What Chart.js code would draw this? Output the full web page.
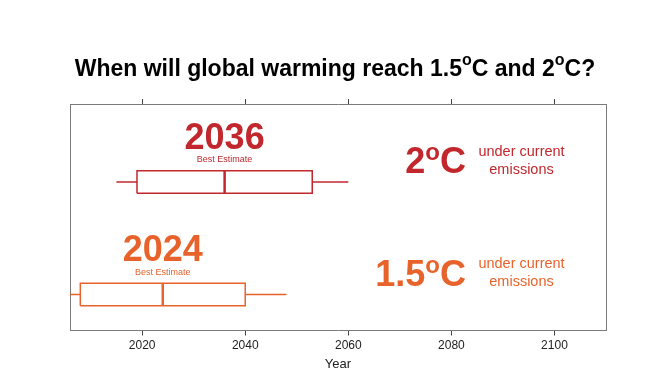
<!DOCTYPE html>
<html>
<head>
<meta charset="utf-8">
<script src="https://cdn.jsdelivr.net/npm/chart.js@4"></script>
<style>
  body { margin: 0; background: #fff; }
</style>
</head>
<body>
<canvas id="chartWarming" width="672" height="391"></canvas>
<script>
// rows of the chart (top to bottom)
let thresholds = ["2", "1.5"];
let rowValue = [2, 1];
let bestEstimate = [2036, 2024];
let whiskerLow = [2015, 2003];
let boxLow = [2019, 2008];
let boxHigh = [2053, 2040];
let whiskerHigh = [2060, 2048];
let rowColors = ["#c1272d", "#e8632b"];

let yearTicks = [2020, 2040, 2060, 2080, 2100];

const FONT = "'Liberation Sans', Arial, Helvetica, sans-serif";
const HALF = 0.1;

let datasets = [];
thresholds.forEach((t, i) => {
    let r = rowValue[i];
    let line = {
        type: 'scatter',
        showLine: true,
        pointRadius: 0,
        pointHoverRadius: 0,
        borderColor: rowColors[i],
        backgroundColor: rowColors[i],
        borderWidth: 1.5,
        tension: 0
    };
    datasets.push({...line, label: t + " box", data: [
        {x: boxLow[i], y: r - HALF}, {x: boxHigh[i], y: r - HALF},
        {x: boxHigh[i], y: r + HALF}, {x: boxLow[i], y: r + HALF},
        {x: boxLow[i], y: r - HALF}
    ]});
    datasets.push({...line, label: t + " low", data: [{x: whiskerLow[i], y: r}, {x: boxLow[i], y: r}]});
    datasets.push({...line, label: t + " high", data: [{x: boxHigh[i], y: r}, {x: whiskerHigh[i], y: r}]});
    datasets.push({...line, label: t + " median", borderWidth: 2.5,
        data: [{x: bestEstimate[i], y: r - HALF}, {x: bestEstimate[i], y: r + HALF}]});
});

// draws text pieces in a row, "sup" pieces raised and smaller
function drawPieces(ctx, pieces, x, baseline, align) {
    let total = 0;
    pieces.forEach(p => {
        ctx.font = p.font;
        p.w = ctx.measureText(p.text).width;
        total += p.w;
    });
    let start = align === 'center' ? x - total / 2 : (align === 'right' ? x - total : x);
    ctx.textAlign = 'left';
    ctx.textBaseline = 'alphabetic';
    pieces.forEach(p => {
        ctx.font = p.font;
        ctx.fillStyle = p.color;
        ctx.fillText(p.text, start, baseline + (p.dy || 0));
        start += p.w;
    });
}

let labelsPlugin = {
    id: 'labelsPlugin',
    afterDraw(chart) {
        let ctx = chart.ctx;
        let xs = chart.scales.x, ys = chart.scales.y;
        let area = chart.chartArea;
        ctx.save();

        // title
        let tb = "bold 23px " + FONT, ts = "bold 16px " + FONT;
        drawPieces(ctx, [
            {text: "When will global warming reach 1.5", font: tb, color: "#000"},
            {text: "o", font: ts, color: "#000", dy: -11},
            {text: "C and 2", font: tb, color: "#000"},
            {text: "o", font: ts, color: "#000", dy: -11},
            {text: "C?", font: tb, color: "#000"}
        ], 335, 76, 'center');

        thresholds.forEach((t, i) => {
            let cx = xs.getPixelForValue(bestEstimate[i]);
            let cy = ys.getPixelForValue(rowValue[i]);
            let c = rowColors[i];

            ctx.fillStyle = c;
            ctx.textAlign = 'center';
            ctx.textBaseline = 'alphabetic';
            ctx.font = "bold 36px " + FONT;
            ctx.fillText(String(bestEstimate[i]), cx, cy - 33);
            ctx.font = "9px " + FONT;
            ctx.fillText("Best Estimate", cx, cy - 19.5);

            let bigFont = "bold 36px " + FONT;
            drawPieces(ctx, [
                {text: t, font: bigFont, color: c},
                {text: "o", font: "bold 24px " + FONT, color: c, dy: -13},
                {text: "C", font: bigFont, color: c}
            ], area.right - 140, cy - 8.5, 'right');

            ctx.fillStyle = c;
            ctx.textAlign = 'center';
            ctx.textBaseline = 'middle';
            ctx.font = "14.5px " + FONT;
            ctx.fillText("under current", area.right - 84.5, cy - 30);
            ctx.fillText("emissions", area.right - 84.5, cy - 12);
        });
        ctx.restore();
    }
};

let frameColor = "#7a7a7a";
let sideAxis = {
    type: 'linear',
    min: 0.68,
    max: 2.693,
    ticks: {display: false},
    grid: {display: false, drawTicks: false},
    border: {display: true, color: frameColor, width: 1},
    afterFit(scale) { scale.width = 0; }
};

new Chart(document.querySelector("#chartWarming").getContext("2d"), {
    type: 'scatter',
    data: {datasets: datasets},
    plugins: [labelsPlugin],
    options: {
        responsive: false,
        animation: false,
        events: [],
        layout: {padding: {top: 99, left: 70, right: 66, bottom: 14.5}},
        plugins: {
            legend: {display: false},
            title: {display: false},
            tooltip: {enabled: false}
        },
        scales: {
            x: {
                type: 'linear',
                position: 'bottom',
                min: 2006,
                max: 2110,
                afterBuildTicks(scale) { scale.ticks = yearTicks.map(v => ({value: v})); },
                ticks: {
                    color: "#222",
                    font: {family: FONT, size: 12},
                    padding: 3,
                    maxRotation: 0,
                    callback: v => String(v)
                },
                grid: {drawOnChartArea: false, tickLength: 5, color: "#444"},
                border: {display: true, color: frameColor, width: 1},
                title: {display: true, text: "Year", color: "#222", font: {family: FONT, size: 13}, padding: {top: 4, bottom: 4}},
                afterFit(scale) { scale.height = 46; }
            },
            xTop: {
                type: 'linear',
                position: 'top',
                min: 2006,
                max: 2110,
                afterBuildTicks(scale) { scale.ticks = yearTicks.map(v => ({value: v})); },
                ticks: {display: false},
                grid: {drawOnChartArea: false, tickLength: 5, color: "#444"},
                border: {display: true, color: frameColor, width: 1},
                afterFit(scale) { scale.height = 5; }
            },
            y: {...sideAxis, position: 'left'},
            yRight: {...sideAxis, position: 'right'}
        }
    }
});
</script>
</body>
</html>
